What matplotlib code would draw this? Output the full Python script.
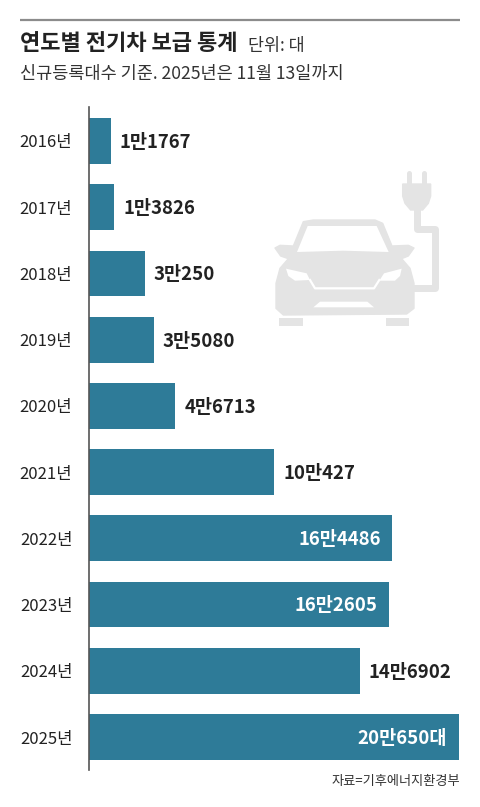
import matplotlib
matplotlib.use("Agg")
import matplotlib.pyplot as plt
from matplotlib.patches import Polygon, Rectangle

plt.rcParams['font.family'] = ['Noto Sans CJK KR', 'DejaVu Sans']

years = ['2016년', '2017년', '2018년', '2019년', '2020년', '2021년', '2022년', '2023년', '2024년', '2025년']
values = [11767, 13826, 30250, 35080, 46713, 100427, 164486, 162605, 146902, 200650]
value_labels = ['1만1767', '1만3826', '3만250', '3만5080', '4만6713', '10만427', '16만4486', '16만2605', '14만6902', '20만650대']
inside = [False, False, False, False, False, False, True, True, False, True]

BAR = '#2e7b98'
ICON = '#e4e4e4'
DARK = '#222222'

W, H = 480, 807
fig = plt.figure(figsize=(W / 100, H / 100), dpi=100, facecolor='white')

# background layer in pixel coords: header, footer, icon
bg = fig.add_axes([0, 0, 1, 1])
bg.set_xlim(0, W)
bg.set_ylim(H, 0)
bg.axis('off')

bg.plot([20, 460], [20, 20], color='#8c8c8c', lw=1.6, solid_capstyle='butt')
bg.text(20, 43, '연도별 전기차 보급 통계', fontsize=15.9, fontweight='bold', color=DARK, va='center')
bg.text(248, 46, '단위: 대', fontsize=12.5, color='#333333', va='center')
bg.text(20, 74, '신규등록대수 기준. 2025년은 11월 13일까지', fontsize=12.6, color='#333333', va='center')
bg.text(460, 781, '자료=기후에너지환경부', fontsize=9.5, color='#333333', va='center', ha='right')


def z(pts):
    return [(260 + x / 3, 160 + y / 3) for x, y in pts]


# car body
body = [(130, 185), (160, 180), (345, 180), (368, 190), (396, 258), (445, 256), (462, 264), (445, 288),
        (425, 296), (450, 325), (462, 370), (462, 445), (440, 462), (70, 465), (48, 445), (48, 370),
        (60, 325), (85, 296), (62, 288), (45, 264), (60, 256), (100, 258)]
bg.add_patch(Polygon(z(body), closed=True, fc=ICON, ec=ICON, lw=1, joinstyle='round'))
# windshield, lights, grille cut out in white
window = [(111, 276), (143, 198), (350, 198), (386, 276), (250, 272)]
bg.add_patch(Polygon(z(window), closed=True, fc='white', ec='none'))
lamp_l = [(78, 326), (140, 340), (150, 360), (105, 362), (85, 348)]
lamp_r = [(425, 326), (372, 340), (358, 362), (405, 362), (420, 348)]
vent = [(160, 442), (180, 425), (322, 425), (342, 442)]
for pts in [lamp_l, lamp_r, vent]:
    bg.add_patch(Polygon(z(pts), closed=True, fc='white', ec='none'))
bg.plot(*zip(*z([(150, 360), (165, 385), (342, 385), (358, 360)])), color='white', lw=1.6)

# wheels
for x0, x1 in [(57, 128), (378, 447)]:
    (px0, py0), (px1, py1) = z([(x0, 475), (x1, 498)])
    bg.add_patch(Rectangle((px0, py0), px1 - px0, py1 - py0, fc=ICON, ec='none'))

# plug and cord
plug = [(428, 72), (512, 72), (512, 108), (505, 130), (488, 150), (452, 150), (435, 130), (428, 108)]
bg.add_patch(Polygon(z(plug), closed=True, fc=ICON, ec=ICON, lw=1))
for x in [447, 492]:
    bg.plot(*zip(*z([(x, 40), (x, 75)])), color=ICON, lw=3.6, solid_capstyle='round')
cord = [(470, 150), (470, 207), (526, 207), (526, 384), (450, 384)]
bg.plot(*zip(*z(cord)), color=ICON, lw=5, solid_joinstyle='round')

# bars
ax = fig.add_axes([89 / W, 1 - 770 / H, 370 / W, (770 - 107) / H])
ax.patch.set_alpha(0)
pos = list(range(len(years)))
ax.barh(pos, values, height=0.69, color=BAR)
ax.set_xlim(0, 200650)
ax.set_ylim(9.498, -0.513)
for s in ['top', 'right', 'bottom']:
    ax.spines[s].set_visible(False)
ax.spines['left'].set_color('#555555')
ax.spines['left'].set_linewidth(1.2)
ax.xaxis.set_visible(False)
ax.set_yticks(pos, years, fontsize=12, color=DARK)
ax.tick_params(axis='y', length=0, pad=12)

for i, v in enumerate(values):
    if inside[i]:
        ax.annotate(value_labels[i], (v, i), xytext=(-8.5, -1), textcoords='offset points', ha='right', va='center',
                    fontsize=13.4, fontweight='bold', color='white', annotation_clip=False)
    else:
        ax.annotate(value_labels[i], (v, i), xytext=(6.5, -1), textcoords='offset points', ha='left', va='center',
                    fontsize=13.4, fontweight='bold', color=DARK, annotation_clip=False)

fig.savefig('out.png', dpi=100)
